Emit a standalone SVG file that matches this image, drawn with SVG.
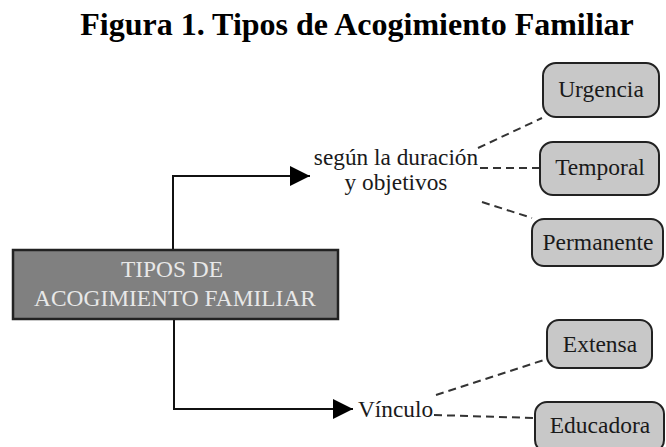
<svg xmlns="http://www.w3.org/2000/svg" width="666" height="447" viewBox="0 0 666 447">
<style>
text{font-family:"Liberation Serif","Times New Roman",serif;}
.title{font-size:32px;font-weight:bold;fill:#000;}
.main{fill:#808080;stroke:#222;stroke-width:2.5;}
.mainT{font-size:23.4px;fill:#e8e8e8;text-anchor:middle;}
.leaf{fill:#c8c8c8;stroke:#222;stroke-width:2;}
.leafT{font-size:23.5px;fill:#1a1a1a;text-anchor:middle;}
.lbl{font-size:23.3px;fill:#1a1a1a;}
.solid{fill:none;stroke:#111;stroke-width:2;}
.dash{fill:none;stroke:#333;stroke-width:2;stroke-dasharray:8 5;}
</style>
<defs>
<marker id="arr" markerWidth="10" markerHeight="10" refX="10" refY="5" orient="auto" markerUnits="strokeWidth">
<path d="M0,0 L10,5 L0,10 Z" fill="#000"/>
</marker>
</defs>
<text class="title" x="357" y="35" text-anchor="middle">Figura 1. Tipos de Acogimiento Familiar</text>
<g id="connectors">
<polyline class="solid" points="173,250 173,176 310,176" marker-end="url(#arr)"/>
<polyline class="solid" points="174,319 174,409 353,409" marker-end="url(#arr)"/>
<line class="dash" x1="478" y1="148" x2="542" y2="118"/>
<line class="dash" x1="480" y1="168" x2="540" y2="168"/>
<line class="dash" x1="482" y1="202" x2="532" y2="218"/>
<line class="dash" x1="436" y1="395" x2="547" y2="359"/>
<line class="dash" x1="434" y1="415" x2="535" y2="418"/>
</g>
<g id="main">
<rect class="main" x="13" y="250" width="325" height="69"/>
<text class="mainT" x="172" y="277">TIPOS DE</text>
<text class="mainT" x="175" y="306">ACOGIMIENTO FAMILIAR</text>
</g>
<g id="label-duracion">
<text class="lbl" x="396" y="165" text-anchor="middle">según la duración</text>
<text class="lbl" x="396" y="190" text-anchor="middle">y objetivos</text>
</g>
<g id="label-vinculo">
<text class="lbl" x="358" y="417">Vínculo</text>
</g>
<g id="urgencia">
<rect class="leaf" x="543" y="63" width="116" height="54" rx="13"/>
<text class="leafT" x="601" y="97">Urgencia</text>
</g>
<g id="temporal">
<rect class="leaf" x="540" y="142" width="119" height="53" rx="13"/>
<text class="leafT" x="600" y="175">Temporal</text>
</g>
<g id="permanente">
<rect class="leaf" x="532" y="219" width="131" height="47" rx="12"/>
<text class="leafT" x="598" y="250">Permanente</text>
</g>
<g id="extensa">
<rect class="leaf" x="547" y="320" width="105" height="48" rx="12"/>
<text class="leafT" x="600" y="352">Extensa</text>
</g>
<g id="educadora">
<rect class="leaf" x="535" y="402" width="129" height="50" rx="12"/>
<text class="leafT" x="600" y="433">Educadora</text>
</g>
</svg>
